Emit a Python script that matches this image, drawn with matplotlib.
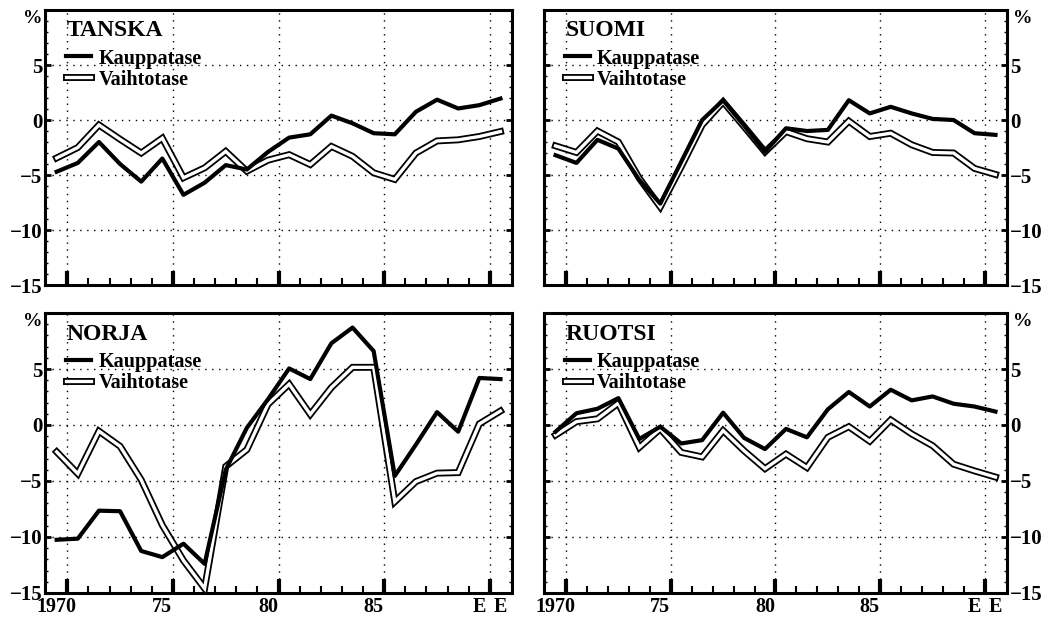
import matplotlib.pyplot as plt
import matplotlib.patheffects as pe

plt.rcParams['font.family'] = ['Liberation Serif', 'DejaVu Serif']
plt.rcParams['font.weight'] = 'bold'

vuodet = list(range(1970, 1992))

# % BKT:sta, luettu kuvasta
tanska_kauppa = [-4.7, -3.9, -2.0, -4.0, -5.6, -3.5, -6.8, -5.7, -4.1, -4.5, -2.9,
                 -1.6, -1.3, 0.4, -0.3, -1.2, -1.3, 0.75, 1.85, 1.05, 1.35, 1.95]
tanska_vaihto = [-3.45, -2.5, -0.45, -1.75, -3.0, -1.65, -5.25, -4.35, -2.85, -4.65, -3.65,
                 -3.15, -4.05, -2.4, -3.3, -4.8, -5.4, -3.0, -1.9, -1.8, -1.5, -1.05]

suomi_kauppa = [-3.2, -3.9, -1.8, -2.6, -5.45, -7.6, -3.8, 0.0, 1.8, -0.5, -2.9,
                -0.75, -1.0, -0.9, 1.8, 0.6, 1.2, 0.6, 0.1, 0.0, -1.2, -1.35]
suomi_vaihto = [-2.35, -2.95, -1.0, -2.0, -5.3, -7.9, -4.25, -0.45, 1.65, -0.6, -2.9,
                -1.05, -1.7, -2.0, -0.1, -1.5, -1.2, -2.25, -2.95, -3.0, -4.4, -4.95]

norja_kauppa = [-10.25, -10.15, -7.65, -7.7, -11.25, -11.8, -10.6, -12.4, -4.0, -0.25, 2.3,
                5.05, 4.1, 7.3, 8.7, 6.6, -4.55, -1.75, 1.15, -0.6, 4.2, 4.1]
norja_vaihto = [-2.4, -4.35, -0.55, -1.9, -4.9, -8.95, -12.1, -14.6, -3.7, -2.2, 1.85,
                3.65, 0.95, 3.35, 5.15, 5.15, -6.85, -5.05, -4.3, -4.25, 0.1, 1.25]

ruotsi_kauppa = [-0.6, 1.05, 1.45, 2.4, -1.25, -0.15, -1.65, -1.35, 1.1, -1.15, -2.15,
                 -0.35, -1.1, 1.4, 2.95, 1.65, 3.15, 2.2, 2.55, 1.9, 1.65, 1.2]
ruotsi_vaihto = [-0.9, 0.3, 0.55, 1.95, -2.0, -0.35, -2.45, -2.85, -0.5, -2.3, -3.9,
                 -2.6, -3.8, -1.1, -0.15, -1.45, 0.45, -0.8, -1.85, -3.5, -4.1, -4.65]

x_tekstit = ["1970", "75", "80", "85", "E", "E"]
x_paikat = [1970, 1975, 1980, 1985, 1990, 1991]
y_arvot = [-15, -10, -5, 0, 5]


def piirra(ax, nimi, kauppa, vaihto, oikea, alin):
    ax.plot(vuodet, vaihto, color="white", lw=2.4, solid_joinstyle="miter",
            path_effects=[pe.Stroke(linewidth=5.0, foreground="black"), pe.Normal()],
            label="Vaihtotase", zorder=3)
    ax.plot(vuodet, kauppa, color="black", lw=3.0, label="Kauppatase", zorder=4)

    ax.set_xlim(1969.45, 1991.55)
    ax.set_ylim(-15, 10)

    ax.set_xticks([v + 0.5 for v in x_paikat[:5]])
    ax.set_xticks([v + 0.5 for v in vuodet[:-1]], minor=True)
    ax.tick_params(axis="x", which="major", direction="in", length=10, width=3,
                   labelbottom=False, top=False)
    ax.tick_params(axis="x", which="minor", direction="in", length=5, width=1.5, top=False)

    ax.set_yticks(y_arvot)
    ax.set_yticks(range(-15, 11), minor=True)
    ax.tick_params(axis="y", which="major", direction="in", length=4, width=2,
                   left=True, right=True, labelsize=15, pad=2,
                   labelleft=not oikea, labelright=oikea)
    ax.tick_params(axis="y", which="minor", direction="in", length=2, width=1,
                   left=True, right=True)

    ax.grid(True, which="major", color="black", lw=1.0, linestyle=(0, (1, 4)))
    for s in ax.spines.values():
        s.set_linewidth(2.2)

    if alin:
        sek = ax.secondary_xaxis("bottom")
        sek.set_xticks(x_paikat, x_tekstit)
        sek.tick_params(length=0, pad=3, labelsize=14.5)
        sek.spines["bottom"].set_visible(False)

    if oikea:
        ax.text(1.012, 0.97, "%", transform=ax.transAxes, ha="left", va="center", fontsize=14)
    else:
        ax.text(-0.006, 0.97, "%", transform=ax.transAxes, ha="right", va="center", fontsize=14)

    ax.text(0.047, 0.925, nimi, transform=ax.transAxes, ha="left", va="center", fontsize=17)
    h, l = ax.get_legend_handles_labels()
    ax.legend(h[::-1], l[::-1], loc="upper left", bbox_to_anchor=(0.045, 0.86),
              frameon=False, fontsize=14.5, handlelength=1.25, handletextpad=0.35,
              labelspacing=0.05, borderpad=0, borderaxespad=0)


fig = plt.figure(figsize=(10.6, 6.18), dpi=100)
ax1 = fig.add_axes([0.0425, 0.5388, 0.4406, 0.445])
ax2 = fig.add_axes([0.5132, 0.5388, 0.4368, 0.445])
ax3 = fig.add_axes([0.0425, 0.0405, 0.4406, 0.453])
ax4 = fig.add_axes([0.5132, 0.0405, 0.4368, 0.453])

piirra(ax1, "TANSKA", tanska_kauppa, tanska_vaihto, False, False)
piirra(ax2, "SUOMI", suomi_kauppa, suomi_vaihto, True, False)
piirra(ax3, "NORJA", norja_kauppa, norja_vaihto, False, True)
piirra(ax4, "RUOTSI", ruotsi_kauppa, ruotsi_vaihto, True, True)

fig.savefig("out.png", dpi=100)
